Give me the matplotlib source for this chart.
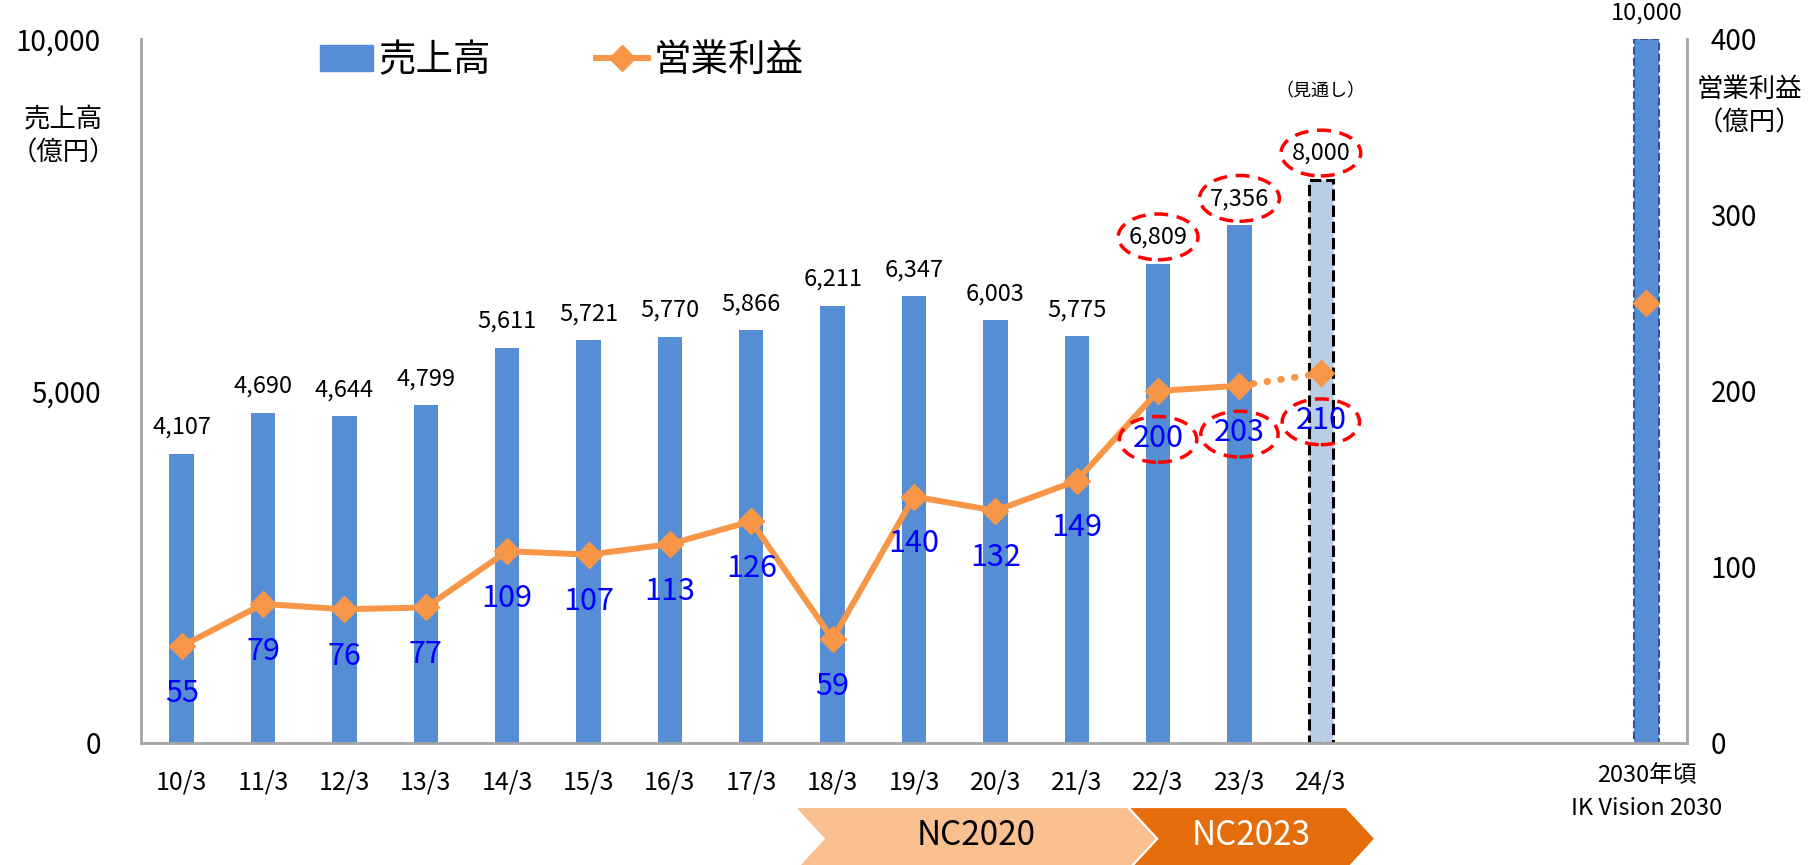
import numpy as np
import matplotlib
matplotlib.use("Agg")
import matplotlib.pyplot as plt
import matplotlib.transforms as mtransforms
from matplotlib.patches import Ellipse, Polygon
from matplotlib.lines import Line2D
from matplotlib.patches import Patch

plt.rcParams['font.family'] = ['Noto Sans CJK JP', 'DejaVu Sans']

# données
periodes = ['10/3', '11/3', '12/3', '13/3', '14/3', '15/3', '16/3', '17/3',
            '18/3', '19/3', '20/3', '21/3', '22/3', '23/3', '24/3']
ventes = [4107, 4690, 4644, 4799, 5611, 5721, 5770, 5866,
          6211, 6347, 6003, 5775, 6809, 7356, 8000]
benefice = [55, 79, 76, 77, 109, 107, 113, 126,
            59, 140, 132, 149, 200, 203, 210]
vision_label = '2030年頃\nIK Vision 2030'
vision_ventes = 10000
vision_benefice = 250
entoures = ['22/3', '23/3', '24/3']
phases = ['NC2020', 'NC2023']

bleu = '#558ED5'
bleu_clair = '#B9CDE5'
orange = '#F79646'
gris = '#A6A6A6'

x = np.arange(len(periodes))
x_vision = len(periodes) + 3
n_reel = len(periodes) - 1  # dernier point = prévision

fig = plt.figure(figsize=(18.1, 8.65), dpi=100)
ax = fig.add_axes([141/1810, 1-743/865, (1687-141)/1810, (743-39)/865])
ax2 = ax.twinx()

# barres
couleurs = [bleu]*n_reel + [bleu_clair]
bords = [bleu]*n_reel + ['black']
styles = ['-']*n_reel + ['--']
larg = [0]*n_reel + [2.2]
for xi, v, c, e, s, lw in zip(x, ventes, couleurs, bords, styles, larg):
    ax.bar(xi, v, width=0.3, color=c, edgecolor=e, linestyle=s, linewidth=lw, zorder=2)
ax.bar(x_vision, vision_ventes, width=0.3, color=bleu, edgecolor='#2F5597',
       linestyle='--', linewidth=1.5, zorder=2)

for xi, v in zip(list(x) + [x_vision], ventes + [vision_ventes]):
    ax.annotate(f'{v:,}', (xi, v), xytext=(0, 19), textcoords='offset points',
                ha='center', va='center', fontsize=17, color='black')

ax.annotate('（見通し）', (x[-1], ventes[-1]), xytext=(0, 64), textcoords='offset points',
            ha='center', va='center', fontsize=13)

# ellipses rouges
for p in entoures:
    i = periodes.index(p)
    ax.add_patch(Ellipse((x[i], ventes[i] + 380), width=0.98, height=650, fill=False,
                         edgecolor='red', linestyle=(0, (4, 2.5)), linewidth=2.5, zorder=5))
    ax2.add_patch(Ellipse((x[i], benefice[i] - 27.5), width=0.95, height=26, fill=False,
                          edgecolor='red', linestyle=(0, (4, 2.5)), linewidth=2.5, zorder=5))

# ligne bénéfice
ax2.plot(x[:n_reel], benefice[:n_reel], color=orange, lw=4.3, marker='D', ms=13, zorder=4)
ax2.plot(x[n_reel-1:], benefice[n_reel-1:], color=orange, lw=5, linestyle=(0, (0.1, 1.9)),
         dash_capstyle='round', zorder=4)
ax2.plot(x[-1:], benefice[-1:], color=orange, marker='D', ms=13, lw=0, zorder=4)
ax2.plot([x_vision], [vision_benefice], color=orange, marker='D', ms=13, lw=0, zorder=4)

for xi, v in zip(x, benefice):
    ax2.annotate(str(v), (xi, v), xytext=(0, -34), textcoords='offset points',
                 ha='center', va='center', fontsize=22, color='#0000FF', zorder=6)

# axes
ax.set_xlim(-0.5, 18.5)
ax.set_ylim(0, 10000)
ax2.set_ylim(0, 400)
ax.set_yticks([0, 5000, 10000])
ax.set_yticklabels(['0', '5,000', '10,000'])
ax2.set_yticks([0, 100, 200, 300, 400])
ax.set_xticks(x)
ax.set_xticklabels(periodes)
ax.tick_params(axis='x', length=0, pad=19, labelsize=18)
ax.tick_params(axis='y', length=0, pad=29, labelsize=20)
ax2.tick_params(axis='y', length=0, pad=17, labelsize=20)
for a in (ax, ax2):
    a.spines['top'].set_visible(False)
    for s in ('left', 'right', 'bottom'):
        a.spines[s].set_color(gris)
        a.spines[s].set_linewidth(1.8)

trans = mtransforms.blended_transform_factory(ax.transData, ax.transAxes)
ax.text(x_vision, -0.070, vision_label, transform=trans, ha='center', va='center',
        fontsize=17, linespacing=1.55)

fig.text(63/1810, 1-136/865, '売上高\n（億円）', ha='center', va='center', fontsize=19, linespacing=1.3)
fig.text(1749/1810, 1-106/865, '営業利益\n（億円）', ha='center', va='center', fontsize=19, linespacing=1.3)

# légende
poignees = [Patch(color=bleu), Line2D([0], [0], color=orange, lw=4.3, marker='D', ms=13)]
ax.legend(poignees, ['売上高', '営業利益'], ncol=2, frameon=False, fontsize=27,
          loc='center left', bbox_to_anchor=(0.116, 0.969), borderaxespad=0, borderpad=0,
          handlelength=1.4, handletextpad=0.15, columnspacing=2.8)

# flèches des plans
d = 0.36
haut, bas = -0.091, -0.181
milieu = (haut + bas) / 2
bornes = [(7.53, 11.99), (11.63, 14.67)]
fonds = ['#FAC090', '#E46C0A']
textes = ['black', 'white']
for nom, (x0, x1), fc, tc in zip(phases, bornes, fonds, textes):
    pts = [(x0, haut), (x1 - d, haut), (x1, milieu), (x1 - d, bas), (x0, bas), (x0 + d, milieu)]
    ax.add_patch(Polygon(pts, closed=True, transform=trans, facecolor=fc, edgecolor='white',
                         linewidth=1.5, clip_on=False))
    ax.text((x0 + x1) / 2, milieu + 0.004, nom, transform=trans, ha='center', va='center',
            fontsize=24, color=tc)

plt.savefig('out.png', dpi=100)
